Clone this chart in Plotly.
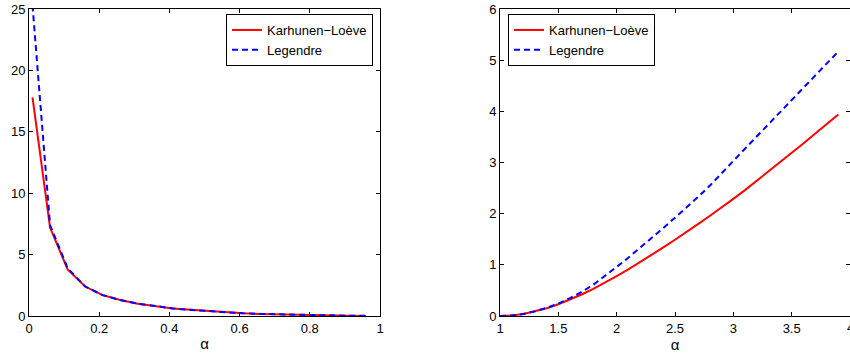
import plotly.graph_objects as go

# Left panel data
alpha_left = [0.01, 0.06, 0.11, 0.16, 0.21, 0.26, 0.31, 0.36, 0.41, 0.46,
              0.51, 0.56, 0.61, 0.66, 0.71, 0.76, 0.81, 0.86, 0.91, 0.96]
kl_left = [17.8, 7.2, 3.8, 2.4, 1.7, 1.3, 1.0, 0.8, 0.62, 0.5,
           0.4, 0.3, 0.22, 0.17, 0.13, 0.09, 0.06, 0.04, 0.02, 0.01]
leg_left = [25.3, 7.4, 3.9, 2.4, 1.7, 1.3, 1.0, 0.8, 0.62, 0.5,
            0.4, 0.3, 0.22, 0.17, 0.13, 0.09, 0.06, 0.04, 0.02, 0.01]

# Right panel data
alpha_right = [1.0, 1.1, 1.2, 1.3, 1.4, 1.5, 1.6, 1.7, 1.8, 1.9, 2.0,
               2.1, 2.2, 2.3, 2.4, 2.5, 2.6, 2.7, 2.8, 2.9, 3.0,
               3.1, 3.2, 3.3, 3.4, 3.5, 3.6, 3.7, 3.8, 3.9]
kl_right = [0.0, 0.01, 0.04, 0.09, 0.15, 0.23, 0.32, 0.42, 0.53, 0.65, 0.78,
            0.91, 1.05, 1.19, 1.34, 1.49, 1.64, 1.80, 1.96, 2.12, 2.29,
            2.46, 2.64, 2.82, 3.00, 3.18, 3.37, 3.56, 3.75, 3.94]
leg_right = [0.0, 0.01, 0.04, 0.09, 0.16, 0.24, 0.35, 0.47, 0.61, 0.78, 0.96,
             1.14, 1.33, 1.52, 1.72, 1.92, 2.12, 2.33, 2.55, 2.78, 3.03,
             3.27, 3.51, 3.75, 3.99, 4.23, 4.46, 4.69, 4.93, 5.17]

x_ticks_left = [0, 0.2, 0.4, 0.6, 0.8, 1]
x_ticks_right = [1, 1.5, 2, 2.5, 3, 3.5, 4]

names = ["Karhunen\u2212Lo\u00e8ve", "Legendre"]
RED = "#ff0000"
BLUE = "#0000ff"
FONT = "Liberation Sans, Arial, sans-serif"

fig = go.Figure()
fig.add_trace(go.Scatter(x=alpha_left, y=kl_left, mode="lines", name=names[0],
                         line=dict(color=RED, width=2), xaxis="x", yaxis="y",
                         legend="legend"))
fig.add_trace(go.Scatter(x=alpha_left, y=leg_left, mode="lines", name=names[1],
                         line=dict(color=BLUE, width=2, dash="6px,4px"),
                         xaxis="x", yaxis="y", legend="legend"))
fig.add_trace(go.Scatter(x=alpha_right, y=kl_right, mode="lines", name=names[0],
                         line=dict(color=RED, width=2), xaxis="x2", yaxis="y2",
                         legend="legend2"))
fig.add_trace(go.Scatter(x=alpha_right, y=leg_right, mode="lines", name=names[1],
                         line=dict(color=BLUE, width=2, dash="6px,4px"),
                         xaxis="x2", yaxis="y2", legend="legend2"))

W, H = 850, 356
ml, mr, mt, mb = 29, 0, 9, 40
pw = W - ml - mr
d1 = [0, (380 - ml) / pw]
d2 = [(500 - ml) / pw, 1]

axcommon = dict(showline=True, linecolor="black", linewidth=1, mirror="ticks",
                ticks="inside", ticklen=4, tickcolor="black", showgrid=False,
                zeroline=False, automargin=False,
                tickfont=dict(family=FONT, size=13, color="black"))

fig.update_layout(
    width=W, height=H,
    margin=dict(l=ml, r=mr, t=mt, b=mb, autoexpand=False),
    paper_bgcolor="white", plot_bgcolor="white",
    font=dict(family=FONT, size=13, color="black"),
    xaxis=dict(domain=d1, range=[0, 1], tickvals=x_ticks_left,
               ticktext=[f"{v:g}" for v in x_ticks_left], anchor="y",
               title=dict(text="\u03b1", font=dict(family=FONT, size=15), standoff=3),
               **axcommon),
    yaxis=dict(domain=[0, 1], range=[0, 25], tickvals=[0, 5, 10, 15, 20, 25],
               anchor="x", **axcommon),
    xaxis2=dict(domain=d2, range=[1, 4], tickvals=x_ticks_right,
                ticktext=[f"{v:g}" for v in x_ticks_right], anchor="y2",
                title=dict(text="\u03b1", font=dict(family=FONT, size=15), standoff=3),
                **axcommon),
    yaxis2=dict(domain=[0, 1], range=[0, 6], tickvals=[0, 1, 2, 3, 4, 5, 6],
                anchor="x2", **axcommon),
    legend=dict(x=(373 - ml) / pw, y=1 - (14 - mt) / (H - mt - mb),
                xanchor="right", yanchor="top", bgcolor="white",
                bordercolor="black", borderwidth=1,
                font=dict(family=FONT, size=13), tracegroupgap=0,
                itemwidth=30),
    legend2=dict(x=(508 - ml) / pw, y=1 - (14 - mt) / (H - mt - mb),
                 xanchor="left", yanchor="top", bgcolor="white",
                 bordercolor="black", borderwidth=1,
                 font=dict(family=FONT, size=13), tracegroupgap=0,
                 itemwidth=30),
)

# Last tick label of the right axis sits on the page edge (partly cut off)
fig.add_annotation(x=x_ticks_right[-1], xref="x2", y=0, yref="paper",
                   text=f"{x_ticks_right[-1]:g}", showarrow=False,
                   xanchor="center", yanchor="top", yshift=-2,
                   font=dict(family=FONT, size=13, color="black"))

fig.write_html("out.html")
